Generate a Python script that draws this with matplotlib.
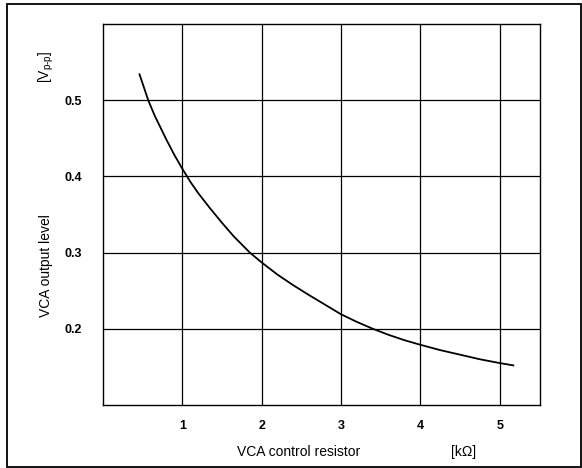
import matplotlib
matplotlib.use("Agg")
import matplotlib.pyplot as plt
from matplotlib.patches import Rectangle

# Data
resistance_kohm = [0.46, 0.57, 0.65, 0.8, 0.9, 1.0, 1.1, 1.2, 1.35, 1.5, 1.65, 1.85, 2.0,
                   2.2, 2.4, 2.6, 2.8, 3.0, 3.2, 3.4, 3.6, 3.8, 4.0, 4.25, 4.5, 4.75, 5.0, 5.17]
output_vpp = [0.534, 0.500, 0.480, 0.448, 0.428, 0.410, 0.393, 0.378, 0.358, 0.339, 0.321, 0.300, 0.287,
              0.271, 0.257, 0.244, 0.2315, 0.219, 0.209, 0.200, 0.192, 0.185, 0.179, 0.172, 0.166, 0.160, 0.155, 0.152]
x_ticks = [1, 2, 3, 4, 5]
x_tick_labels = ["1", "2", "3", "4", "5"]
y_ticks = [0.2, 0.3, 0.4, 0.5]
y_tick_labels = ["0.2", "0.3", "0.4", "0.5"]

plt.rcParams['font.family'] = ['Liberation Sans', 'DejaVu Sans']
plt.rcParams['mathtext.fontset'] = 'custom'
plt.rcParams['mathtext.rm'] = 'Liberation Sans'
plt.rcParams['mathtext.it'] = 'Liberation Sans'
plt.rcParams['mathtext.bf'] = 'Liberation Sans:bold'

W, H = 582, 468
fig = plt.figure(figsize=(W / 100, H / 100), dpi=100)

# axes placement in pixels
left, right, top, bottom = 103, 539.5, 24, 405
ax = fig.add_axes([left / W, 1 - bottom / H, (right - left) / W, (bottom - top) / H])

ax.plot(resistance_kohm, output_vpp, color="black", lw=1.3)
ax.set_xlim(0, 5.5)
ax.set_ylim(0.1, 0.6)
ax.set_xticks(x_ticks)
ax.set_xticklabels(x_tick_labels)
ax.set_yticks(y_ticks)
ax.set_yticklabels(y_tick_labels)
ax.tick_params(length=0, labelsize=9)
ax.tick_params(axis="y", pad=15)
ax.tick_params(axis="x", pad=11)
for lab in ax.get_xticklabels() + ax.get_yticklabels():
    lab.set_fontweight("bold")
ax.grid(True, color="black", lw=0.9)
for s in ax.spines.values():
    s.set_linewidth(1.0)
    s.set_color("black")

# axis labels
fig.text(299 / W, 1 - 452 / H, "VCA control resistor", ha="center", va="center", fontsize=10)
fig.text(464 / W, 1 - 452 / H, "[k\u03a9]", ha="center", va="center", fontsize=10)
fig.text(46 / W, 1 - 266 / H, "VCA output level", ha="center", va="center", rotation=90, fontsize=10)
fig.text(46 / W, 1 - 67 / H, "[V$_{\\mathregular{p\\text{-}p}}$]", ha="center", va="center",
         rotation=90, fontsize=10)

# outer frame
fig.patches.append(Rectangle((6.5 / W, 1 - 466.5 / H), (581 - 6.5) / W, (466.5 - 4) / H,
                             transform=fig.transFigure, fill=False, edgecolor="black", lw=1.3))

fig.savefig("out.png", dpi=100)
